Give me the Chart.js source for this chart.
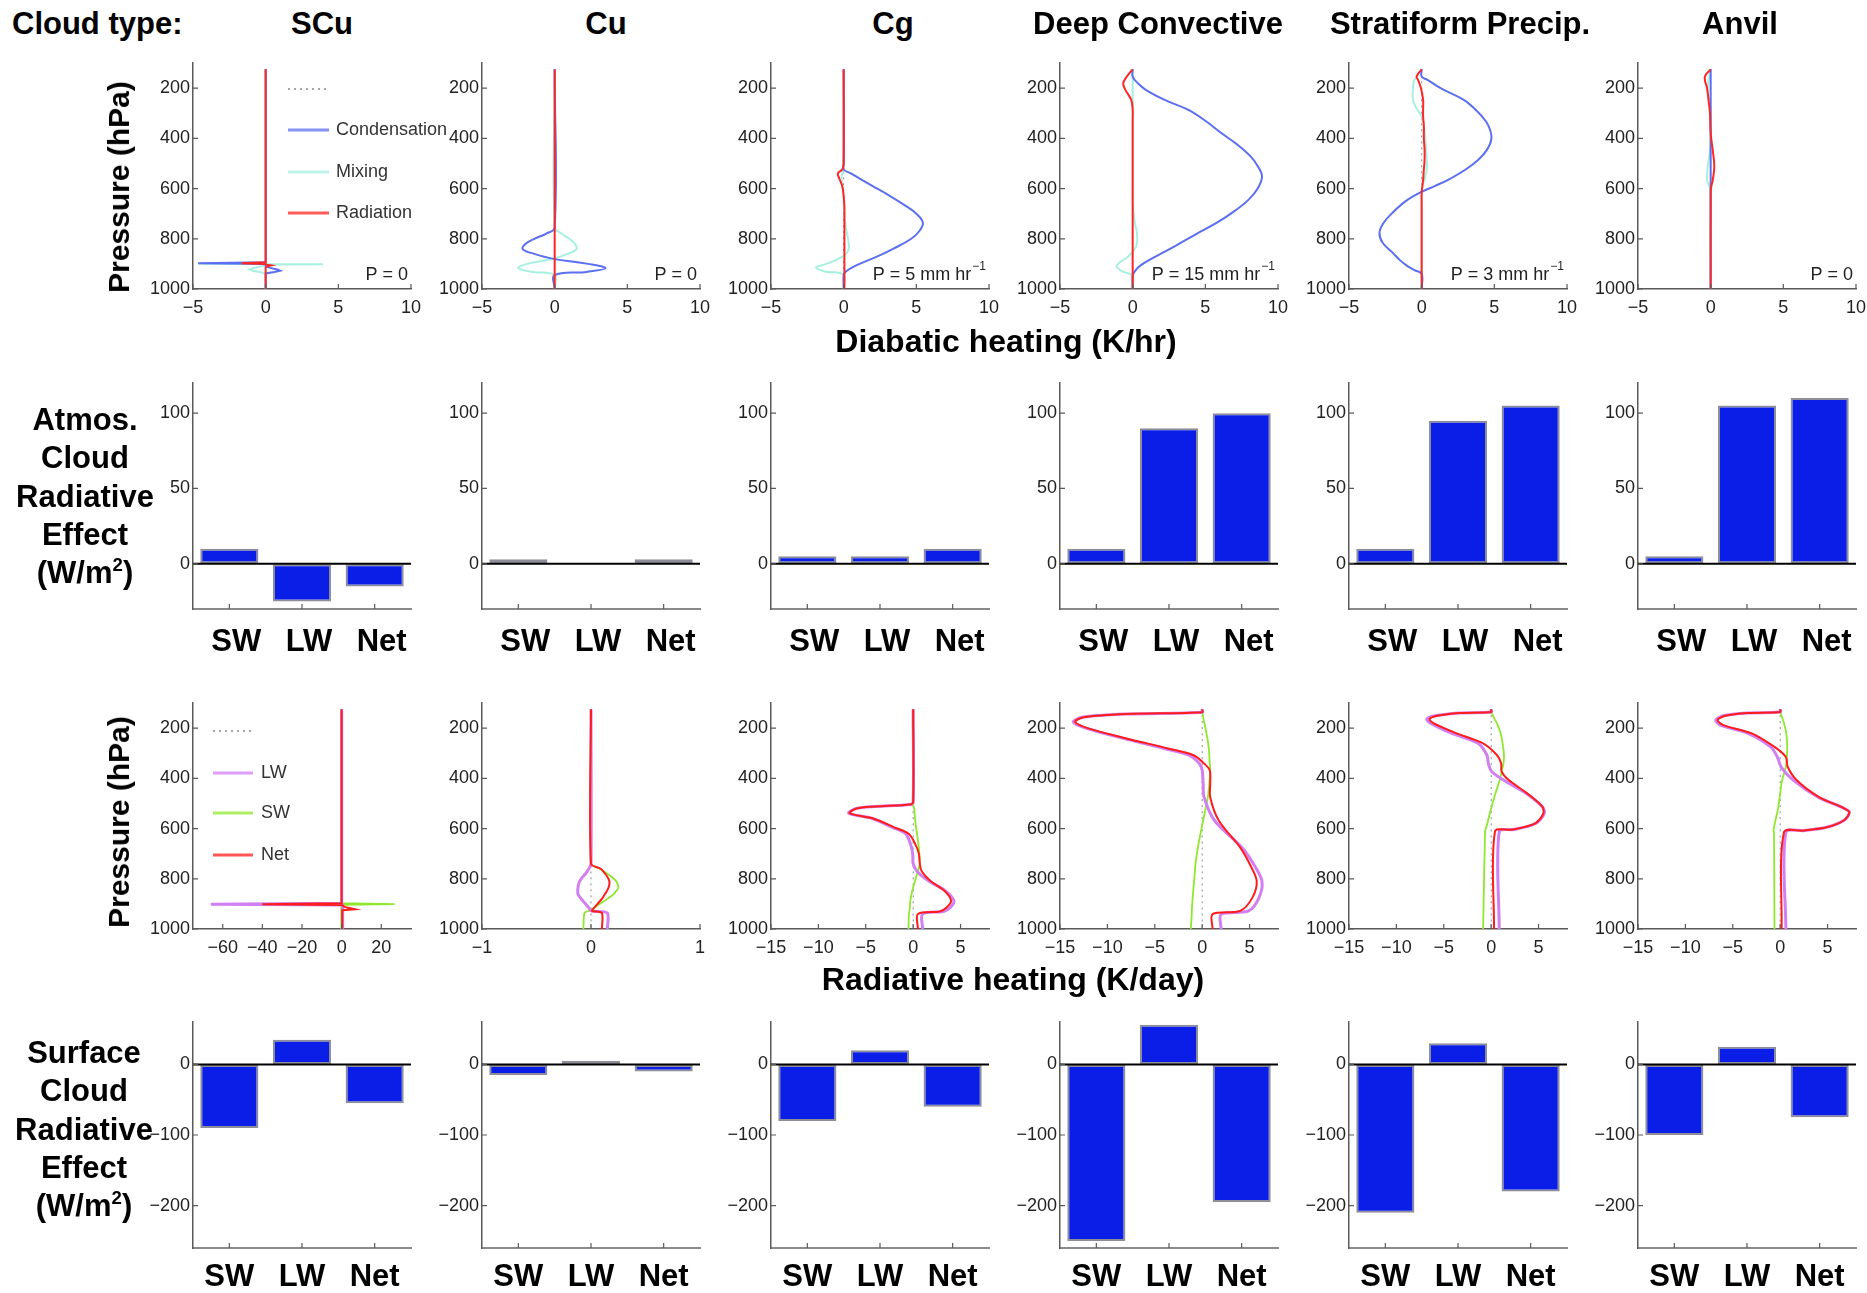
<!DOCTYPE html>
<html>
<head>
<meta charset="utf-8">
<title>Cloud type heating and cloud radiative effect</title>
<script src="https://cdn.jsdelivr.net/npm/chart.js"></script>
<style>
  html, body { margin: 0; padding: 0; background: #fff; }
  body { width: 1867px; height: 1293px; position: relative; overflow: hidden;
         font-family: "Liberation Sans", Arial, sans-serif; }
  .box { position: absolute; }
  .lbl { position: absolute; font-weight: bold; font-size: 31px; line-height: 1;
         color: #000; white-space: nowrap; transform: translate(-50%, -50%); z-index: 5; }
  .vert { font-size: 30px; transform: translate(-50%, -50%) rotate(-90deg); }
  .stack { position: absolute; font-weight: bold; font-size: 31px; line-height: 38.3px;
           text-align: center; white-space: nowrap; transform: translateX(-50%); z-index: 5; }
  sup { font-size: 0.6em; line-height: 0; vertical-align: 0.62em; }
</style>
</head>
<body>
<div id="charts"></div>

<div class="lbl" style="left:12px; top:23px; transform: translateY(-50%);">Cloud type:</div>
<div id="titles"></div>
<div class="lbl vert" style="left:119px; top:187px;">Pressure (hPa)</div>
<div class="lbl vert" style="left:119px; top:822px;">Pressure (hPa)</div>
<div class="lbl" style="left:1006px; top:341px; font-size:32px;">Diabatic heating (K/hr)</div>
<div class="lbl" style="left:1013px; top:979px; font-size:32px;">Radiative heating (K/day)</div>
<div class="stack" style="left:85px; top:401px;">Atmos.<br>Cloud<br>Radiative<br>Effect<br>(W/m<sup>2</sup>)</div>
<div class="stack" style="left:84px; top:1034px;">Surface<br>Cloud<br>Radiative<br>Effect<br>(W/m<sup>2</sup>)</div>

<script>
// ---- categories and tick labels ----
const cloudTypes = ['SCu', 'Cu', 'Cg', 'Deep Convective', 'Stratiform Precip.', 'Anvil'];
const barCats = ['SW', 'LW', 'Net'];
const pressureTicks = [200, 400, 600, 800, 1000];
const diabTicks = [-5, 0, 5, 10];
const radTicksSCu = [-60, -40, -20, 0, 20];
const radTicksCu = [-1, 0, 1];
const radTicksWide = [-15, -10, -5, 0, 5];
const atmosTicks = [0, 50, 100];
const surfTicks = [-200, -100, 0];
const precipRates = [0, 0, 5, 15, 3, 0];   // mm/hr

// ---- atmospheric / surface cloud radiative effect (W/m2): SW, LW, Net ----
const atmosSCu = [10, -25, -15];
const atmosCu = [3, 0, 3];
const atmosCg = [5, 5, 10];
const atmosDeep = [10, 90, 100];
const atmosStrat = [10, 95, 105];
const atmosAnvil = [5, 105, 110];
const surfSCu = [-90, 35, -55];
const surfCu = [-15, 5, -10];
const surfCg = [-80, 20, -60];
const surfDeep = [-250, 56, -195];
const surfStrat = [-210, 30, -180];
const surfAnvil = [-100, 25, -75];

// ---- diabatic heating profiles (K/hr) vs pressure (hPa) ----
const zeroP = [125, 1000];
const zeroV = [0, 0];

const scuP1 = [125, 880, 893, 897, 899, 901, 903, 906, 910, 916, 922, 927, 932, 938, 1000];
const scuRad1 = [0, 0, 0, -1.65, -0.3, 0, 0.1, 0.4, 0.1, 0, 0, 0, 0, 0, 0];
const scuCond1 = [0, 0, 0, -4.65, -1.0, 0, 0, 0, 0, 0.3, 0.8, 1.0, 0.6, 0, 0];
const scuMix1 = [0, 0, 0, 0, -4.6, 3.95, 0.3, 0, -0.3, -0.8, -1.1, -0.9, -0.4, 0, 0];

const cuP1 = [125, 755, 780, 800, 820, 841, 860, 881, 900, 917, 932, 945, 1000];
const cuRad1 = [0, 0, 0, 0, 0, 0, 0, 0, 0, 0, 0, 0, 0];
const cuCond1 = [0, 0, -0.6, -1.4, -2.0, -2.2, -1.4, 0, 2.3, 3.5, 2.2, 0, 0];
const cuMix1 = [0, 0, 0.5, 1.0, 1.4, 1.5, 0.9, -0.2, -1.9, -2.5, -1.5, 0, 0];

const cgP1 = [125, 500, 524, 540, 560, 590, 630, 670, 700, 736, 770, 802, 840, 868, 900, 914, 930, 944, 1000];
const cgRad1 = [0, 0, -0.1, -0.4, -0.3, -0.1, 0, 0.05, 0.05, 0.05, 0.05, 0.05, 0.05, 0.05, 0.05, 0.05, 0.05, 0.05, 0.05];
const cgCond1 = [0, 0, 0, 0.5, 1.1, 2.0, 3.2, 4.3, 5.0, 5.45, 5.2, 4.6, 3.4, 2.4, 1.1, 0.6, 0.15, 0, 0];
const cgMix1 = [0, 0, 0, -0.1, -0.15, -0.1, 0, 0, 0.05, 0.1, 0.2, 0.3, 0.35, 0, -1.2, -1.9, -1.3, 0, 0];

const dcP1 = [125, 154, 180, 207, 247, 286, 330, 379, 425, 471, 510, 551, 600, 643, 690, 736, 780, 828, 870, 908, 930, 947, 1000];
const dcRad1 = [0, -0.4, -0.65, -0.5, -0.1, 0, 0, 0, 0, 0, 0, 0, 0, 0, 0, 0, 0, 0, 0, 0, 0, 0, 0];
const dcCond1 = [0, 0, 0.35, 0.9, 2.2, 3.8, 5.0, 6.1, 7.2, 8.1, 8.6, 8.9, 8.6, 8.0, 7.0, 5.8, 4.4, 2.95, 1.6, 0.5, 0.15, 0, 0];
const dcMix1 = [0, 0, 0, 0, 0, 0, 0, 0, 0, 0, 0, 0, 0, 0, 0.05, 0.15, 0.3, 0.25, -0.3, -1.1, -0.7, 0, 0];

const spP1 = [125, 154, 167, 200, 247, 280, 313, 350, 399, 445, 485, 525, 564, 590, 617, 650, 696, 735, 775, 815, 855, 885, 908, 925, 940, 1000];
const spRad1 = [0, -0.35, -0.25, -0.05, 0.1, 0.1, 0.1, 0.15, 0.15, 0.2, 0.2, 0.15, 0.1, 0.05, 0, 0, 0, 0, 0, 0, 0, 0, 0, 0, 0, 0];
const spCond1 = [0, 0, 0.4, 1.3, 2.9, 3.6, 4.15, 4.6, 4.8, 4.5, 3.9, 3.0, 1.85, 0.9, -0.15, -1.1, -2.0, -2.6, -2.9, -2.7, -2.0, -1.5, -1.0, -0.5, 0, 0];
const spMix1 = [0, -0.3, -0.5, -0.6, -0.6, -0.35, 0, 0.15, 0.25, 0.3, 0.35, 0.35, 0.2, 0.05, 0, 0, 0, 0, 0, 0, 0, 0, 0, 0, 0, 0];

const anP1 = [125, 155, 200, 247, 300, 379, 450, 511, 564, 590, 610, 1000];
const anRad1 = [0, -0.4, -0.25, -0.15, -0.05, 0, 0.15, 0.25, 0.15, 0.05, 0, 0];
const anCond1 = [0, 0, 0, 0, 0, 0, 0, 0, 0, 0, 0, 0];
const anMix1 = [0, -0.1, -0.2, -0.1, 0, 0, -0.05, -0.2, -0.25, -0.1, 0, 0];

// ---- radiative heating profiles (K/day) vs pressure (hPa) ----
const scuP3 = [125, 880, 897, 901, 904, 912, 918, 921, 925, 1000];
const scuNet3 = [0, 0, 0, -40, 0.3, 1.5, 5, 6.7, 0.3, 0.3];
const scuLw3 = [0, 0, 0, -66, 0.5, 0.5, 0.5, 0.5, 0.5, 0.5];
const scuSw3 = [0, 0, 0, 26.7, -0.2, -0.2, -0.2, -0.2, -0.2, -0.2];

const cuP3 = [125, 740, 760, 780, 800, 816, 836, 860, 880, 900, 915, 928, 936, 1000];
const cuNet3 = [0, 0, 0.09, 0.13, 0.16, 0.17, 0.16, 0.13, 0.1, 0.06, 0.03, 0.01, 0.1, 0.1];
const cuLw3 = [0, 0, -0.02, -0.05, -0.09, -0.11, -0.12, -0.12, -0.09, -0.05, -0.02, 0, 0.15, 0.15];
const cuSw3 = [0, 0, 0.08, 0.15, 0.21, 0.24, 0.25, 0.21, 0.15, 0.08, 0.03, -0.02, -0.06, -0.07];

const cgP3 = [125, 495, 504, 512, 520, 539, 560, 595, 620, 660, 700, 740, 770, 808, 848, 888, 915, 930, 940, 1000];
const cgNet3 = [0, 0, -0.3, -4.0, -6.0, -6.7, -4.2, -2.0, -0.5, 0.2, 0.6, 0.7, 0.9, 1.8, 3.3, 4.0, 3.5, 2.8, 0.5, 0.5];
const cgLw3 = [0, 0, -0.3, -4.0, -6.0, -6.8, -4.3, -2.2, -0.8, -0.3, -0.05, 0, 0.4, 1.6, 3.4, 4.3, 3.9, 3.2, 1.0, 1.0];
const cgSw3 = [0, 0, 0, 0.05, 0.1, 0.15, 0.2, 0.3, 0.4, 0.55, 0.65, 0.7, 0.5, 0.2, -0.1, -0.3, -0.35, -0.4, -0.45, -0.5];

const dcP3 = [125, 137, 144, 157, 175, 201, 241, 281, 308, 341, 368, 420, 475, 568, 675, 740, 808, 875, 928, 941, 1000];
const dcNet3 = [0, 0, -8.0, -12.5, -13.4, -12.0, -8.0, -3.6, -0.9, 0.2, 0.8, 0.85, 0.85, 1.75, 4.0, 5.0, 5.75, 5.3, 4.0, 1.1, 1.1];
const dcLw3 = [0, 0, -8.1, -12.7, -13.6, -12.2, -8.3, -4.0, -1.4, -0.3, 0, 0.1, 0.2, 1.3, 4.2, 5.4, 6.3, 6.0, 4.9, 2.0, 2.0];
const dcSw3 = [0, 0, 0.05, 0.1, 0.2, 0.35, 0.55, 0.7, 0.75, 0.8, 0.85, 0.75, 0.6, 0.1, -0.45, -0.7, -0.85, -1.0, -1.1, -1.1, -1.2];

const spP3 = [125, 136, 140, 151, 164, 180, 220, 260, 307, 340, 373, 407, 460, 513, 540, 580, 604, 612, 1000];
const spNet3 = [0, 0, -3.3, -5.7, -6.5, -6.1, -3.7, -0.9, 0.6, 1.05, 1.1, 1.85, 3.8, 5.4, 5.5, 4.6, 2.2, 0.4, 0.3];
const spLw3 = [0, 0, -3.4, -5.9, -6.8, -6.4, -4.2, -1.4, -0.45, -0.3, 0.05, 1.3, 3.7, 5.4, 5.6, 4.7, 2.4, 0.85, 0.85];
const spSw3 = [0, 0, 0.05, 0.2, 0.35, 0.6, 1.0, 1.2, 1.35, 1.3, 1.1, 0.9, 0.45, 0.05, -0.15, -0.4, -0.6, -0.65, -0.85];

const anP3 = [125, 136, 140, 151, 168, 188, 221, 275, 315, 355, 408, 475, 515, 535, 568, 595, 608, 615, 1000];
const anNet3 = [0, 0, -3.4, -5.8, -6.6, -6.0, -3.0, -0.6, 0.6, 0.8, 1.75, 4.1, 6.5, 7.3, 6.7, 4.9, 2.5, 0.4, 0.15];
const anLw3 = [0, 0, -3.5, -6.0, -6.8, -6.3, -3.4, -1.0, -0.3, 0.1, 1.4, 4.0, 6.5, 7.3, 6.7, 4.9, 2.6, 0.6, 0.6];
const anSw3 = [0, 0, 0.05, 0.15, 0.3, 0.45, 0.65, 0.75, 0.7, 0.6, 0.2, -0.05, -0.2, -0.3, -0.5, -0.65, -0.7, -0.65, -0.6];

// ---- layout / style ----
const colX = [193, 482, 771, 1060, 1349, 1638];
const rowY = [63, 383, 703, 1022];
const titleX = [322, 606, 893, 1158, 1460, 1740];
const plotW = 218, plotH = 226;
const padL = 60, padT = 16, padR = 40, padB = 50;
const axisColor = '#5a5a5a';
const tickColor = '#222';
const boldFamily = '"Liberation Sans", Arial, sans-serif';
const colors = {
  cond: '#5b6ff0', mix: '#a8f0df', rad: '#ff2626',
  lw: '#d27ff2', sw: '#8fe82e', net: '#ff1c1c', zero: '#8a8a8a',
  barFill: '#0a1ee8', barEdge: '#8e8e98'
};

function pickTickFont() {
  const c = document.createElement('canvas').getContext('2d');
  c.font = '20px monospace';
  const w0 = c.measureText('1000 Condensation').width;
  c.font = '20px "Liberation Sans Narrow", monospace';
  const w1 = c.measureText('1000 Condensation').width;
  if (Math.abs(w0 - w1) > 1) return { family: '"Liberation Sans Narrow", "Liberation Sans", Arial, sans-serif', size: 20 };
  return { family: '"Liberation Sans", Arial, sans-serif', size: 18 };
}
const tickFont = pickTickFont();

function fmt(v) { return v < 0 ? '\u2212' + Math.abs(v) : String(v); }

// column titles
cloudTypes.forEach((t, i) => {
  const d = document.createElement('div');
  d.className = 'lbl';
  d.style.left = titleX[i] + 'px';
  d.style.top = '23px';
  d.textContent = t;
  document.getElementById('titles').appendChild(d);
});

// ---- plugins ----
const insideTicks = {
  id: 'insideTicks',
  afterDraw(chart) {
    const { ctx, chartArea: a, scales } = chart;
    ctx.save();
    ctx.strokeStyle = axisColor;
    ctx.lineWidth = 1.2;
    ctx.beginPath();
    scales.x.ticks.forEach((t, i) => {
      const px = scales.x.getPixelForTick(i);
      ctx.moveTo(px, a.bottom); ctx.lineTo(px, a.bottom - 5);
    });
    scales.y.ticks.forEach((t, i) => {
      const py = scales.y.getPixelForTick(i);
      ctx.moveTo(a.left, py); ctx.lineTo(a.left + 5, py);
    });
    ctx.stroke();
    ctx.restore();
  }
};

const zeroLine = {
  id: 'zeroLine',
  afterDatasetsDraw(chart) {
    const { ctx, chartArea: a, scales } = chart;
    const y = scales.y.getPixelForValue(0);
    ctx.save();
    ctx.strokeStyle = '#000';
    ctx.lineWidth = 2;
    ctx.beginPath(); ctx.moveTo(a.left, y); ctx.lineTo(a.right, y); ctx.stroke();
    ctx.restore();
  }
};

function precipNote(rate) {
  return {
    id: 'precipNote',
    afterDraw(chart) {
      const { ctx, chartArea: a } = chart;
      const y = a.top + 212, right = a.right - 3;
      const main = rate === 0 ? 'P = 0' : 'P = ' + rate + ' mm hr';
      const sup = rate === 0 ? '' : '\u22121';
      ctx.save();
      ctx.fillStyle = '#222';
      ctx.textBaseline = 'middle';
      ctx.textAlign = 'right';
      let ws = 0;
      if (sup) {
        ctx.font = Math.round(tickFont.size * 0.65) + 'px ' + tickFont.family;
        ws = ctx.measureText(sup).width + 1;
        ctx.fillText(sup, right, y - 8);
      }
      ctx.font = tickFont.size + 'px ' + tickFont.family;
      ctx.fillText(main, right - ws, y);
      ctx.restore();
    }
  };
}

function boxLegend(items, x0, x1, tx, ys) {
  return {
    id: 'boxLegend',
    afterDraw(chart) {
      const { ctx, chartArea: a } = chart;
      ctx.save();
      items.forEach((it, i) => {
        const y = a.top + ys[i];
        ctx.beginPath();
        ctx.strokeStyle = it.color;
        ctx.globalAlpha = it.dash ? 1 : 0.75;
        ctx.lineWidth = it.dash ? 1.5 : 3;
        ctx.setLineDash(it.dash || []);
        ctx.moveTo(a.left + x0, y); ctx.lineTo(a.left + x1, y);
        ctx.stroke();
        ctx.globalAlpha = 1;
        if (it.label) {
          ctx.setLineDash([]);
          ctx.fillStyle = '#333';
          ctx.font = tickFont.size + 'px ' + tickFont.family;
          ctx.textBaseline = 'middle';
          ctx.textAlign = 'left';
          ctx.fillText(it.label, a.left + tx, y);
        }
      });
      ctx.restore();
    }
  };
}

// ---- chart builders ----
function mount(col, row) {
  const box = document.createElement('div');
  box.className = 'box';
  box.style.left = (colX[col] - padL) + 'px';
  box.style.top = (rowY[row] - padT) + 'px';
  const cv = document.createElement('canvas');
  const w = padL + plotW + padR, h = padT + plotH + padB;
  cv.width = w; cv.height = h;
  cv.style.width = w + 'px'; cv.style.height = h + 'px';
  box.appendChild(cv);
  document.getElementById('charts').appendChild(box);
  return cv;
}

function yAxis(min, max, ticks, reverse) {
  return {
    type: 'linear', min: min, max: max, reverse: reverse,
    afterBuildTicks: s => { s.ticks = ticks.map(v => ({ value: v })); },
    afterFit: s => { s.width = padL; },
    grid: { display: true, drawOnChartArea: false, drawTicks: false },
    border: { display: true, color: axisColor, width: 1.5 },
    ticks: { color: tickColor, font: tickFont, padding: 3, autoSkip: false, callback: v => fmt(v) }
  };
}

function xAxis(min, max, ticks) {
  return {
    type: 'linear', min: min, max: max,
    afterBuildTicks: s => { s.ticks = ticks.map(v => ({ value: v })); },
    afterFit: s => { s.height = padB; },
    grid: { display: true, drawOnChartArea: false, drawTicks: false },
    border: { display: true, color: axisColor, width: 1.5 },
    ticks: { color: tickColor, font: tickFont, padding: 8, autoSkip: false, maxRotation: 0, callback: v => fmt(v) }
  };
}

const baseOptions = {
  responsive: false, animation: false, devicePixelRatio: 1,
  layout: { padding: { top: padT, right: padR, left: 0, bottom: 0 } },
  plugins: { legend: { display: false }, tooltip: { enabled: false } }
};

function line(p, v, color, width, dash) {
  return { p: p, v: v, color: color, width: width, dash: dash };
}

function profileChart(col, row, xr, xTicks, curves, tension, extra) {
  const cv = mount(col, row);
  new Chart(cv, {
    type: 'scatter',
    data: {
      datasets: curves.map(c => ({
        data: c.p.map((p, i) => ({ x: c.v[i], y: p })),
        showLine: true, fill: false, pointRadius: 0, pointHoverRadius: 0,
        borderColor: c.color, borderWidth: c.width, borderDash: c.dash || [],
        tension: tension
      }))
    },
    options: Object.assign({}, baseOptions, {
      scales: { x: xAxis(xr[0], xr[1], xTicks), y: yAxis(100, 1000, pressureTicks, true) }
    }),
    plugins: [insideTicks].concat(extra)
  });
}

function barChart(col, row, values, yr, yTicks, labelPad, labelOffset) {
  const cv = mount(col, row);
  new Chart(cv, {
    type: 'bar',
    data: {
      labels: barCats,
      datasets: [{
        data: values, backgroundColor: colors.barFill, borderColor: colors.barEdge,
        borderWidth: 2, borderSkipped: false, barPercentage: 0.8, categoryPercentage: 1
      }]
    },
    options: Object.assign({}, baseOptions, {
      scales: {
        x: {
          type: 'category', offset: true,
          afterFit: s => { s.height = padB; },
          grid: { display: true, drawOnChartArea: false, drawTicks: false },
          border: { display: true, color: '#8a8a8a', width: 2 },
          ticks: { color: '#000', font: { family: boldFamily, size: 31, weight: 'bold' },
                   padding: labelPad, labelOffset: labelOffset, autoSkip: false, maxRotation: 0 }
        },
        y: yAxis(yr[0], yr[1], yTicks, false)
      }
    }),
    plugins: [insideTicks, zeroLine]
  });
}

// ---- row 1: diabatic heating ----
const diabPanels = [
  [scuP1, scuRad1, scuCond1, scuMix1, 0],
  [cuP1, cuRad1, cuCond1, cuMix1, 0.4],
  [cgP1, cgRad1, cgCond1, cgMix1, 0.4],
  [dcP1, dcRad1, dcCond1, dcMix1, 0.4],
  [spP1, spRad1, spCond1, spMix1, 0.4],
  [anP1, anRad1, anCond1, anMix1, 0.4]
];
diabPanels.forEach((d, i) => {
  const extra = [precipNote(precipRates[i])];
  if (i === 0) {
    extra.push(boxLegend([
      { color: colors.zero, dash: [2, 4] },
      { color: colors.cond, label: 'Condensation' },
      { color: colors.mix, label: 'Mixing' },
      { color: colors.rad, label: 'Radiation' }
    ], 95, 136, 143, [26, 67, 109, 150]));
  }
  profileChart(i, 0, [-5, 10], diabTicks, [
    line(d[0], d[1], colors.rad, 2),
    line(d[0], d[2], colors.cond, 2),
    line(d[0], d[3], colors.mix, 2),
    line(zeroP, zeroV, colors.zero, 1, [2, 4])
  ], d[4], extra);
});

// ---- row 3: radiative heating ----
const radPanels = [
  [scuP3, scuNet3, scuLw3, scuSw3, 0, [-75, 35], radTicksSCu],
  [cuP3, cuNet3, cuLw3, cuSw3, 0.25, [-1, 1], radTicksCu],
  [cgP3, cgNet3, cgLw3, cgSw3, 0.3, [-15, 8], radTicksWide],
  [dcP3, dcNet3, dcLw3, dcSw3, 0.3, [-15, 8], radTicksWide],
  [spP3, spNet3, spLw3, spSw3, 0.3, [-15, 8], radTicksWide],
  [anP3, anNet3, anLw3, anSw3, 0.3, [-15, 8], radTicksWide]
];
radPanels.forEach((d, i) => {
  const extra = [];
  if (i === 0) {
    extra.push(boxLegend([
      { color: colors.zero, dash: [2, 4] },
      { color: colors.lw, label: 'LW' },
      { color: colors.sw, label: 'SW' },
      { color: colors.net, label: 'Net' }
    ], 20, 60, 68, [28, 70, 110, 152]));
  }
  profileChart(i, 2, d[5], d[6], [
    line(d[0], d[1], colors.net, 2),
    line(d[0], d[2], colors.lw, 3),
    line(d[0], d[3], colors.sw, 1.8),
    line(zeroP, zeroV, colors.zero, 1, [2, 4])
  ], d[4], extra);
});

// ---- rows 2 and 4: cloud radiative effect bars ----
[atmosSCu, atmosCu, atmosCg, atmosDeep, atmosStrat, atmosAnvil].forEach((v, i) => {
  barChart(i, 1, v, [-30, 120], atmosTicks, 15, 7);
});
[surfSCu, surfCu, surfCg, surfDeep, surfStrat, surfAnvil].forEach((v, i) => {
  barChart(i, 3, v, [-260, 60], surfTicks, 11, 0);
});
</script>
</body>
</html>
